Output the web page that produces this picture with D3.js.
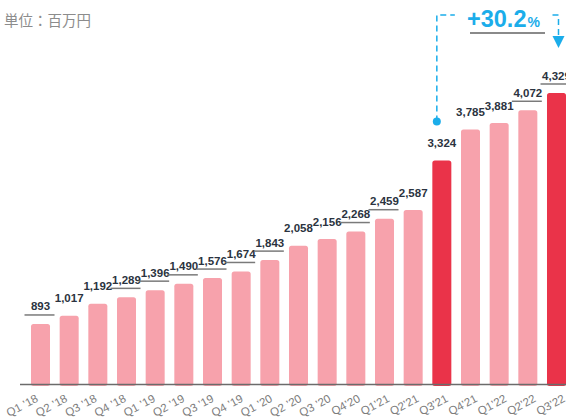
<!DOCTYPE html>
<html><head><meta charset="utf-8">
<script src="https://cdn.jsdelivr.net/npm/d3@7"></script>
<style>
html,body{margin:0;padding:0;background:#fff;}
svg{display:block;}
</style></head>
<body>
<script>
const categories = ["Q1 ’18","Q2 ’18","Q3 ’18","Q4 ’18","Q1 ’19","Q2 ’19","Q3 ’19","Q4 ’19","Q1 ’20","Q2 ’20","Q3 ’20","Q4’20","Q1’21","Q2’21","Q3’21","Q4’21","Q1’22","Q2’22","Q3’22"];
const values = [893,1017,1192,1289,1396,1490,1576,1674,1843,2058,2156,2268,2459,2587,3324,3785,3881,4072,4329];
const valueLabels = ["893","1,017","1,192","1,289","1,396","1,490","1,576","1,674","1,843","2,058","2,156","2,268","2,459","2,587","3,324","3,785","3,881","4,072","4,329"];
const highlighted = ["Q3’21","Q3’22"];
const underlined = ["893","1,289","1,396","1,490","1,576","1,674","1,843","2,268","2,459","4,072","4,329"];
const unitLabel = "単位：百万円";
const growthLabel = "+30.2";
const growthUnit = "%";

const W = 566, H = 418;
const svg = d3.select("body").append("svg").attr("width", W).attr("height", H);

const x = d3.scaleBand().domain(categories).range([31, 566]).paddingInner(0.337).paddingOuter(0);
const y = d3.scaleLinear().domain([0, 4329]).range([384, 93]);
const xLab = d3.scalePoint().domain(categories).range([39, 566]);

const pink = "#f7a2ac", red = "#ea3349", blue = "#1badea";

// title
svg.append("text").attr("x", 4).attr("y", 26)
  .attr("font-family", "'Noto Sans CJK JP', sans-serif").attr("font-size", 14.5)
  .attr("fill", "#8c8c8c").text(unitLabel);

// bars
svg.append("g").selectAll("rect").data(categories).join("rect")
  .attr("x", d => x(d)).attr("width", x.bandwidth())
  .attr("y", (d,i) => y(values[i])).attr("height", (d,i) => y(0) - y(values[i]) + 2)
  .attr("rx", 2.5)
  .attr("fill", d => highlighted.includes(d) ? red : pink);

// baseline
svg.append("line").attr("x1", 20).attr("x2", W).attr("y1", y(0) + 0.5).attr("y2", y(0) + 0.5)
  .attr("stroke", "#6b6b6b").attr("stroke-width", 1.6);

// value labels
const lg = svg.append("g");
categories.forEach((c, i) => {
  const cx = x(c) + x.bandwidth() / 2;
  const by = y(values[i]) - 13.5;
  lg.append("text").attr("x", cx).attr("y", by).attr("text-anchor", "middle")
    .attr("font-family", "'Liberation Sans', Arial, sans-serif").attr("font-weight", "bold")
    .attr("font-size", 11.5).attr("fill", "#2b3340").text(valueLabels[i]);
  if (underlined.includes(valueLabels[i])) {
    lg.append("line").attr("x1", cx - 16).attr("x2", cx + 14).attr("y1", by + 4.5).attr("y2", by + 4.5)
      .attr("stroke", "#7a7a7a").attr("stroke-width", 1.5);
  }
});

// x axis labels
svg.append("g").selectAll("text").data(categories).join("text")
  .attr("transform", d => `translate(${xLab(d)},401) rotate(-28)`)
  .attr("text-anchor", "end")
  .attr("font-family", "'Liberation Sans', Arial, sans-serif").attr("font-size", 11.5)
  .attr("fill", "#7c7c7c").text(d => d);

// growth annotation
const a = "Q3’21", b = "Q3’22";
const ax = x(a) + x.bandwidth() / 2 - 5;
const ay = y(values[categories.indexOf(a)]) - 39;
const bx = x(b) + x.bandwidth() / 2 + 2;
const topY = 15;
svg.append("path").attr("d", `M${ax},${ay} V${topY} H${ax + 18}`)
  .attr("fill", "none").attr("stroke", blue).attr("stroke-width", 1.5).attr("stroke-dasharray", "6,4");
svg.append("path").attr("d", `M${bx - 6},${topY} H${bx} V${topY + 22}`)
  .attr("fill", "none").attr("stroke", blue).attr("stroke-width", 1.5).attr("stroke-dasharray", "6,4");
svg.append("path").attr("d", `M${bx - 6},${topY + 21} L${bx + 6},${topY + 21} L${bx},${topY + 33} Z`).attr("fill", blue);
svg.append("circle").attr("cx", ax).attr("cy", ay).attr("r", 4).attr("fill", blue);

const gt = svg.append("text").attr("x", 467).attr("y", 27)
  .attr("font-family", "'Liberation Sans', Arial, sans-serif").attr("font-weight", "bold").attr("fill", blue);
gt.append("tspan").attr("font-size", 23.5).text(growthLabel);
gt.append("tspan").attr("font-size", 14).attr("dx", 1).text(growthUnit);
svg.append("line").attr("x1", 470).attr("x2", 545).attr("y1", 33).attr("y2", 33)
  .attr("stroke", "#8a8a8a").attr("stroke-width", 2);
</script>
</body></html>
